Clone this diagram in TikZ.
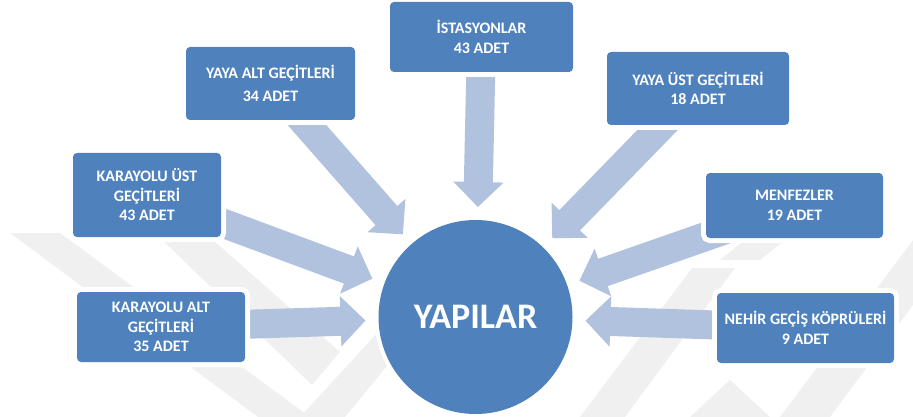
\documentclass[tikz,border=0pt]{standalone}
\usepackage{fontspec}
\setmainfont{Carlito}
\usetikzlibrary{arrows.meta,calc}
\definecolor{boxblue}{HTML}{4F81BD}
\definecolor{arrowblue}{HTML}{B0C2DE}
\definecolor{wm}{HTML}{F0F0F0}
\tikzset{
  item/.style={rectangle, rounded corners=4pt, fill=boxblue, text=white,
    font=\bfseries\fontsize{16}{19.5}\selectfont, align=center, inner sep=0pt,
    preaction={draw=white, line width=10pt}},
  hub/.style={circle, fill=boxblue, text=white, inner sep=0pt, minimum size=194pt,
    font=\bfseries\fontsize{36}{40}\selectfont, preaction={draw=white, line width=8pt}},
  blockarrow/.style={draw=arrowblue, line width=29pt,
    -{Triangle[width=49pt,length=25pt]}},
  watermark/.style={fill=wm, draw=none}
}
\begin{document}
\begin{tikzpicture}[x=1pt,y=-1pt]
\useasboundingbox (0,0) rectangle (913,417);
% faint background watermark
\fill[watermark] (10,233) -- (60,233) -- (310,417) -- (258,417) -- cycle;
\fill[watermark] (155,233) -- (205,233) -- (340,352) -- (312,385) -- cycle;
\fill[watermark] (300,417) -- (345,417) -- (400,350) -- (380,330) -- cycle;
\fill[watermark] (580,417) -- (625,417) -- (735,268) -- (692,268) -- cycle;
\fill[watermark] (690,417) -- (730,380) -- (770,417) -- cycle;
\fill[watermark] (780,417) -- (830,417) -- (913,305) -- (913,240) -- cycle;
\fill[watermark] (720,260) -- (760,260) -- (800,228) -- (760,228) -- cycle;
% centre
\node[hub] (c) at (475.5,317) {YAPILAR};
% box centres
\path (481.5,37) coordinate (p1) (270.5,83.5) coordinate (p2) (147,195) coordinate (p3)
      (161,327) coordinate (p4) (698,88.5) coordinate (p5) (794.5,205.5) coordinate (p6)
      (805.5,328) coordinate (p7);
\foreach \i in {1,...,7} {
  \coordinate (t\i) at ($(c.center)!110pt!(p\i)$);
}
\foreach \i in {1,...,7} {
  \draw[blockarrow] (p\i) -- (t\i);
}
\node[item, minimum width=183pt, minimum height=70pt] (b1) at (p1) {İSTASYONLAR\\43 ADET};
\node[item, minimum width=169pt, minimum height=73pt, font=\bfseries\fontsize{16}{23}\selectfont] (b2) at (p2) {YAYA ALT GEÇİTLERİ\\34 ADET};
\node[item, minimum width=148pt, minimum height=84pt] (b3) at (p3) {KARAYOLU ÜST\\GEÇİTLERİ\\43 ADET};
\node[item, minimum width=168pt, minimum height=70pt] (b4) at (p4) {KARAYOLU ALT\\GEÇİTLERİ\\35 ADET};
\node[item, minimum width=182pt, minimum height=73pt] (b5) at (p5) {YAYA ÜST GEÇİTLERİ\\18 ADET};
\node[item, minimum width=177pt, minimum height=65pt] (b6) at (p6) {MENFEZLER\\19 ADET};
\node[item, minimum width=177pt, minimum height=70pt] (b7) at (p7) {NEHİR GEÇİŞ KÖPRÜLERİ\\9 ADET};
\node[hub] at (c) {YAPILAR};
\end{tikzpicture}
\end{document}
